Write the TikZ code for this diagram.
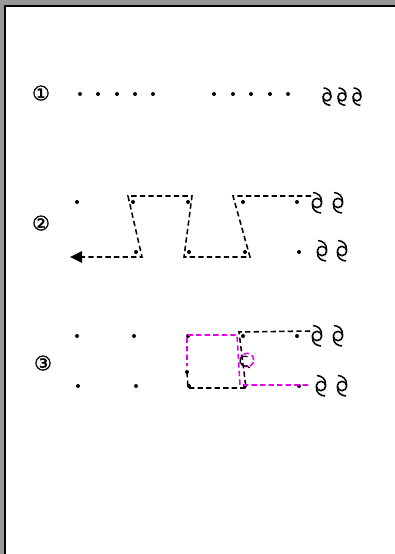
\documentclass[tikz,border=0pt]{standalone}
\usepackage{fontspec}
\newfontfamily\djv[FakeBold=1.5]{DejaVu Sans}
\usetikzlibrary{arrows.meta}
\definecolor{bggray}{RGB}{152,152,152}
\definecolor{mag}{RGB}{230,0,230}
\tikzset{
  dot/.style={circle,fill=black,inner sep=0pt,minimum size=3pt},
  num/.style={font=\djv\fontsize{15}{15}\selectfont,inner sep=0pt},
  dsh/.style={line width=1.15pt,dash pattern=on 4pt off 2.4pt},
  hurr/.pic={
    \draw[line width=1.15pt] (0,1) circle (3.5pt);
    \draw[line width=1.15pt] (4.6,0) .. controls (4.8,-6) and (1,-9) .. (-4,-9.5);
    \draw[line width=1.15pt] (-4.6,2) .. controls (-4.8,8) and (-1,10.5) .. (4,11);
  }
}
\begin{document}
\begin{tikzpicture}[x=0.75pt,y=-0.75pt]
\useasboundingbox (0,0) rectangle (395,554);
\fill[bggray] (0,0) rectangle (395,554);
\fill[white] (6,7) rectangle (395,554);
\draw[line width=1.5pt] (5,554) -- (5,6) -- (395,6);

% row 1
\node[num] (n1) at (41,93) {①};
\foreach \x [count=\i] in {80,98,117,135,153,214,233,251,270,288}
  \node[dot] (r1d\i) at (\x,94) {};
\pic[scale=0.85] at (327,96) {hurr};
\pic[scale=0.85] at (342,96) {hurr};
\pic[scale=0.85] at (357,96) {hurr};

% row 2
\node[num] (n2) at (41,223) {②};
\foreach \x/\n in {77/a,133/b,188/c,243/d,297/e}
  \node[dot] (t\n) at (\x,202) {};
\foreach \x/\n in {136/b,189/c,245/d,299/e}
  \node[dot] (b\n) at (\x,252) {};
\coordinate (s2) at (311,196);
\coordinate (c1) at (233,196);
\coordinate (c2) at (250,257);
\coordinate (c3) at (184,257);
\coordinate (c4) at (192,196);
\coordinate (c5) at (128,196);
\coordinate (c6) at (142,257);
\coordinate (e2) at (70,257);
\draw[dsh,-{Triangle[length=9pt,width=8.5pt]}] (s2) -- (c1) -- (c2) -- (c3) -- (c4) -- (c5) -- (c6) -- (e2);
\pic at (317,202) {hurr};
\pic at (338,202) {hurr};
\pic at (322,250) {hurr};
\pic at (342,250) {hurr};

% row 3
\node[num] (n3) at (43,363) {③};
\foreach \x/\n in {77/a,134/b,188/c,243/d,297/e}
  \node[dot] (u\n) at (\x,336) {};
\foreach \x/\n in {78/a,136/b,189/c,245/d,299/e}
  \node[dot] (v\n) at (\x,386) {};
\node[dot] (vx) at (187,372) {};
% black path
\coordinate (k0) at (187,372);
\coordinate (k1) at (188,388);
\coordinate (k2) at (246,388);
\coordinate (k3) at (239,332);
\coordinate (k4) at (310,331);
\draw[dsh] (k0) -- (k1) -- (k2) -- (k3) -- (k4);
% magenta path
\coordinate (m0) at (308,385);
\coordinate (m1) at (240,385);
\coordinate (m2) at (237,335);
\coordinate (m3) at (187,335);
\coordinate (m4) at (187,366);
\draw[dsh,mag] (m0) -- (m1) -- (m2) -- (m3) -- (m4);
\node[circle,draw=mag,dsh,minimum size=10pt,inner sep=0pt] (lp) at (247,360) {};
\draw[line width=0.9pt] ([shift={(60:3.8pt)}]245,361) arc (60:290:3.8pt) -- ++(2.2pt,-1.6pt);
\pic at (317,335) {hurr};
\pic at (338,335) {hurr};
\pic at (321,385) {hurr};
\pic at (342,385) {hurr};
\end{tikzpicture}
\end{document}
